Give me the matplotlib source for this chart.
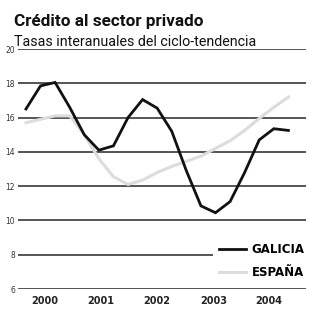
import matplotlib
matplotlib.use("Agg")
import matplotlib.pyplot as plt

# Quarterly series, 2000 Q1 .. 2004 Q3
periods = list(range(19))
galicia = [16.5, 17.85, 18.05, 16.6, 15.0, 14.1, 14.35, 16.0, 17.05, 16.55,
           15.2, 12.9, 10.85, 10.45, 11.1, 12.8, 14.7, 15.35, 15.25]
espana = [15.7, 15.9, 16.1, 16.1, 15.0, 13.6, 12.55, 12.1, 12.35, 12.8,
          13.15, 13.45, 13.75, 14.2, 14.65, 15.25, 15.95, 16.6, 17.2]

year_labels = ["2000", "2001", "2002", "2003", "2004"]
year_pos = [1.3, 5.15, 9.0, 12.85, 16.65]
y_ticks = [6, 8, 10, 12, 14, 16, 18, 20]

GRID = "#555555"

fig = plt.figure(figsize=(3.09, 3.11), dpi=100)
ax = fig.add_axes([0.058, 0.0707, 0.932, 0.7717])

for v in y_ticks:
    ax.axhline(v, color=GRID, lw=1.4, zorder=1)

ax.plot(periods, espana, color="#dcdcdc", lw=2.2, label="ESPAÑA", zorder=2,
        solid_joinstyle="miter")
ax.plot(periods, galicia, color="#111111", lw=2.0, label="GALICIA", zorder=3,
        solid_joinstyle="miter")

ax.set_xlim(-0.55, 19.2)
ax.set_ylim(6, 20)
ax.set_yticks(y_ticks)
ax.set_yticklabels([str(v) for v in y_ticks], fontsize=5.5, color="#333333")
ax.set_xticks(year_pos)
ax.set_xticklabels(year_labels, fontsize=7, fontweight="bold", color="#222222")
ax.tick_params(axis="both", length=0)
ax.tick_params(axis="y", pad=2)
ax.tick_params(axis="x", pad=5)
for s in ax.spines.values():
    s.set_visible(False)

handles, labels = ax.get_legend_handles_labels()
leg = ax.legend(handles[::-1], labels[::-1], loc="lower right",
                bbox_to_anchor=(1.035, -0.005), frameon=True, facecolor="white",
                edgecolor="none", framealpha=1, fancybox=False,
                handlelength=2.3, handletextpad=0.5, labelspacing=0.85,
                prop={"size": 8.5, "weight": "bold"}, borderpad=0.45)
leg.set_zorder(5)

fig.text(0.045, 0.915, "Crédito al sector privado", fontsize=12.3,
         fontweight="bold", family="Roboto", color="#111111")
fig.text(0.045, 0.852, "Tasas interanuales del ciclo-tendencia", fontsize=10.3,
         family="Roboto", color="#111111")

fig.savefig("out.png", dpi=100)
